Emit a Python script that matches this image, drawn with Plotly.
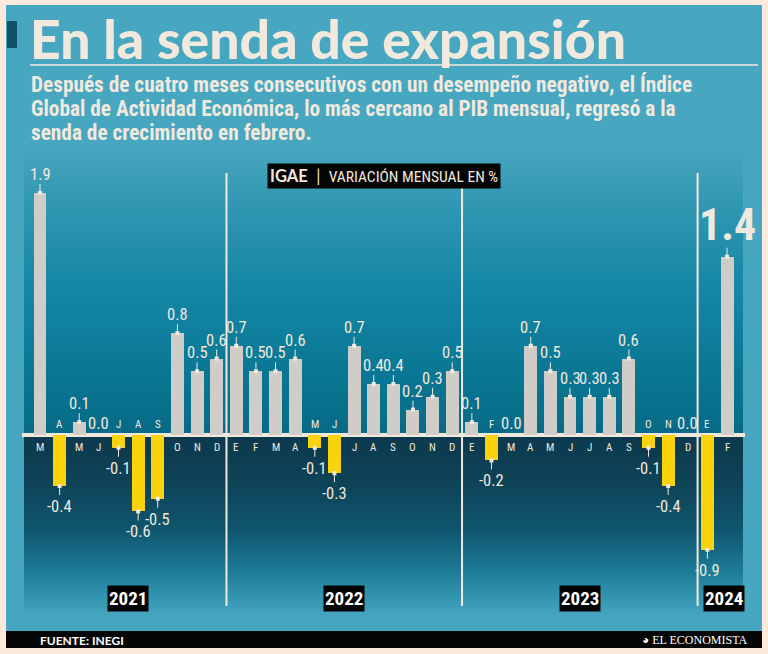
import plotly.graph_objects as go

# ---------------- data ----------------
months = ["M", "A", "M", "J", "J", "A", "S", "O", "N", "D",
          "E", "F", "M", "A", "M", "J", "J", "A", "S", "O", "N", "D",
          "E", "F", "M", "A", "M", "J", "J", "A", "S", "O", "N", "D",
          "E", "F"]
years = ["2021"] * 10 + ["2022"] * 12 + ["2023"] * 12 + ["2024"] * 2
values = [1.9, -0.4, 0.1, 0.0, -0.1, -0.6, -0.5, 0.8, 0.5, 0.6,
          0.7, 0.5, 0.5, 0.6, -0.1, -0.3, 0.7, 0.4, 0.4, 0.2, 0.3, 0.5,
          0.1, -0.2, 0.0, 0.7, 0.5, 0.3, 0.3, 0.3, 0.6, -0.1, -0.4, 0.0,
          -0.9, 1.4]
year_labels = ["2021", "2022", "2023", "2024"]

title = "En la senda de expansión"
subtitle_lines = [
    "Después de cuatro meses consecutivos con un desempeño negativo, el Índice",
    "Global de Actividad Económica, lo más cercano al PIB mensual, regresó a la",
    "senda de crecimiento en febrero.",
]
source = "FUENTE: INEGI"
brand = "EL ECONOMISTA"

# ---------------- geometry / style ----------------
W, H = 768, 654
PXU = 127.4      # pixels per unit
ZERO_Y = 435     # pixel y of zero line
X0 = 40          # pixel x of first bar
STEP = 19.63     # pixel step between bars

CREAM = "#fbeadc"
PANEL = "#47a6c0"
TXT = "#f1e8de"
GREY = "#d0cdc9"
YELLOW = "#f9d30c"
NARROW = "Roboto Condensed, Open Sans Condensed, DejaVu Sans Condensed, sans-serif"
BOLDF = "Lato, Open Sans, sans-serif"


def px(x):
    return x / W


def py(y):
    return 1 - y / H


def u(pixels):
    return pixels / PXU


def hex2rgb(h):
    h = h.lstrip("#")
    return tuple(int(h[i:i + 2], 16) for i in (0, 2, 4))


def interp(stops, y):
    for (y1, c1), (y2, c2) in zip(stops[:-1], stops[1:]):
        if y1 <= y <= y2:
            t = (y - y1) / (y2 - y1) if y2 > y1 else 0
            a, b = hex2rgb(c1), hex2rgb(c2)
            return "rgb(%d,%d,%d)" % tuple(round(a[k] + (b[k] - a[k]) * t) for k in range(3))
    return stops[-1][1]


shapes = []
# teal panel
shapes.append(dict(type="rect", xref="paper", yref="paper", x0=px(6), x1=px(762),
                   y0=py(632), y1=py(5), fillcolor=PANEL, line_width=0, layer="below"))
# gradient above zero
up_stops = [(150, "#46a5bf"), (200, "#3398b3"), (280, "#1688a6"), (360, "#0a7a97"), (434, "#076a86")]
y = 150
while y < 434:
    y2 = min(y + 3, 434)
    shapes.append(dict(type="rect", xref="paper", yref="paper", x0=px(24), x1=px(743),
                       y0=py(y2 + 0.5), y1=py(y), fillcolor=interp(up_stops, (y + y2) / 2),
                       line_width=0, layer="below"))
    y = y2
# gradient below zero
lo_stops = [(436, "#0d394d"), (480, "#0e4257"), (530, "#0f566e"), (570, "#1d7a95"), (600, "#3597b2"), (616, "#47a6c0")]
y = 436
while y < 616:
    y2 = min(y + 3, 616)
    shapes.append(dict(type="rect", xref="paper", yref="paper", x0=px(24), x1=px(743),
                       y0=py(y2 + 0.5), y1=py(y), fillcolor=interp(lo_stops, (y + y2) / 2),
                       line_width=0, layer="below"))
    y = y2
# zero line
shapes.append(dict(type="rect", xref="paper", yref="paper", x0=px(22), x1=px(745),
                   y0=py(437), y1=py(433), fillcolor=TXT, line_width=0, layer="below"))
# year dividers
for i in range(1, len(years)):
    if years[i] != years[i - 1]:
        shapes.append(dict(type="line", xref="x", yref="paper", x0=i - 0.5, x1=i - 0.5,
                           y0=py(606), y1=py(173), line=dict(color=TXT, width=2), layer="below"))
# title ornaments
shapes.append(dict(type="rect", xref="paper", yref="paper", x0=px(7), x1=px(17),
                   y0=py(48), y1=py(21), fillcolor="#0d5468", line_width=0))
shapes.append(dict(type="line", xref="paper", yref="paper", x0=px(30), x1=px(758),
                   y0=py(65), y1=py(65), line=dict(color=TXT, width=1.5)))
# footer band
shapes.append(dict(type="rect", xref="paper", yref="paper", x0=px(6), x1=px(762),
                   y0=py(648), y1=py(631), fillcolor="#050505", line_width=0))

idx = list(range(len(values)))
colors = [GREY if v >= 0 else YELLOW for v in values]

fig = go.Figure()
fig.add_trace(go.Bar(x=idx, y=values, width=0.66, marker=dict(color=colors, line_width=0),
                     hoverinfo="skip"))

# leader lines and dots
lx, ly, dx, dy = [], [], [], []
for i, v in enumerate(values):
    if v == 0:
        continue
    length = u(9)
    end = v + length if v > 0 else v - length
    lx += [i, i, None]
    ly += [v, end, None]
    dx.append(i)
    dy.append(v)
fig.add_trace(go.Scatter(x=lx, y=ly, mode="lines", line=dict(color=TXT, width=1),
                         hoverinfo="skip"))
fig.add_trace(go.Scatter(x=dx, y=dy, mode="markers",
                         marker=dict(symbol="square", size=4, color=TXT),
                         hoverinfo="skip"))

ann = []
for i, (v, m) in enumerate(zip(values, months)):
    lab = f"{v:.1f}"
    if i == len(values) - 1:
        ann.append(dict(x=i, y=v + u(4), text=f"<b>{lab}</b>", showarrow=False,
                        yanchor="bottom", xanchor="center",
                        font=dict(family=NARROW, size=44, color=TXT)))
    elif v > 0:
        ann.append(dict(x=i, y=v + u(7), text=lab, showarrow=False, yanchor="bottom",
                        font=dict(family=NARROW, size=16.5, color=TXT)))
    elif v < 0:
        ann.append(dict(x=i, y=v - u(9), text=lab, showarrow=False, yanchor="top",
                        font=dict(family=NARROW, size=16.5, color=TXT)))
    else:
        ann.append(dict(x=i, y=u(0), text=lab, showarrow=False, yanchor="bottom",
                        font=dict(family=NARROW, size=16.5, color=TXT)))
    my = -u(12) if v >= 0 else u(11)
    ann.append(dict(x=i, y=my, text=m, showarrow=False, yanchor="middle",
                    font=dict(family=NARROW, size=11, color=TXT)))

# year labels
for k, yl in enumerate(year_labels):
    ids = [i for i, yy in enumerate(years) if yy == yl]
    if k == len(year_labels) - 1:
        ann.append(dict(x=ids[0] - 0.2, y=-u(598 - ZERO_Y), text=f"<b>{yl}</b>", showarrow=False,
                        xanchor="left", yanchor="middle", bgcolor="#050505", borderpad=1,
                        font=dict(family=NARROW, size=19, color="white")))
    else:
        ann.append(dict(x=sum(ids) / len(ids), y=-u(598 - ZERO_Y), text=f"<b>{yl}</b>",
                        showarrow=False, xanchor="center", yanchor="middle",
                        bgcolor="#050505", borderpad=1,
                        font=dict(family=NARROW, size=19, color="white")))

# IGAE tag
ann.append(dict(xref="paper", yref="paper", x=px(267), y=py(176), xanchor="left", yanchor="middle",
                text="<b>IGAE</b>  |  <span style='font-family:Roboto Condensed;font-size:15.5px'>VARIACIÓN MENSUAL EN %</span>",
                showarrow=False, bgcolor="#050505", borderpad=2,
                font=dict(family=BOLDF, size=16.5, color=TXT)))

# title + subtitle
ann.append(dict(xref="paper", yref="paper", x=px(28), y=py(38), xanchor="left", yanchor="middle",
                text=title, showarrow=False,
                font=dict(family=BOLDF, size=53.5, color=TXT, weight=900)))
for k, line in enumerate(subtitle_lines):
    ann.append(dict(xref="paper", yref="paper", x=px(29), y=py(85 + 23.8 * k), xanchor="left",
                    yanchor="middle", text=f"<b>{line}</b>", showarrow=False,
                    font=dict(family=NARROW, size=21.3, color=TXT)))

# footer
ann.append(dict(xref="paper", yref="paper", x=px(38), y=py(640), xanchor="left", yanchor="middle",
                text=f"<b>{source}</b>", showarrow=False,
                font=dict(family=BOLDF, size=12, color="white")))
ann.append(dict(xref="paper", yref="paper", x=px(750), y=py(640), xanchor="right", yanchor="middle",
                text=f"◕ {brand}", showarrow=False,
                font=dict(family="Liberation Serif, DejaVu Serif, serif", size=12, color="white")))

fig.update_layout(
    width=W, height=H, margin=dict(l=0, r=0, t=0, b=0),
    paper_bgcolor=CREAM, plot_bgcolor="rgba(0,0,0,0)",
    showlegend=False, shapes=shapes, annotations=ann, bargap=0,
    xaxis=dict(range=[-X0 / STEP, (W - X0) / STEP], visible=False, fixedrange=True),
    yaxis=dict(range=[-(H - ZERO_Y) / PXU, ZERO_Y / PXU], visible=False, fixedrange=True),
)

fig.write_html("out.html", config={"displayModeBar": False},
               post_script="document.body.style.margin='0';document.body.style.overflow='hidden';")
